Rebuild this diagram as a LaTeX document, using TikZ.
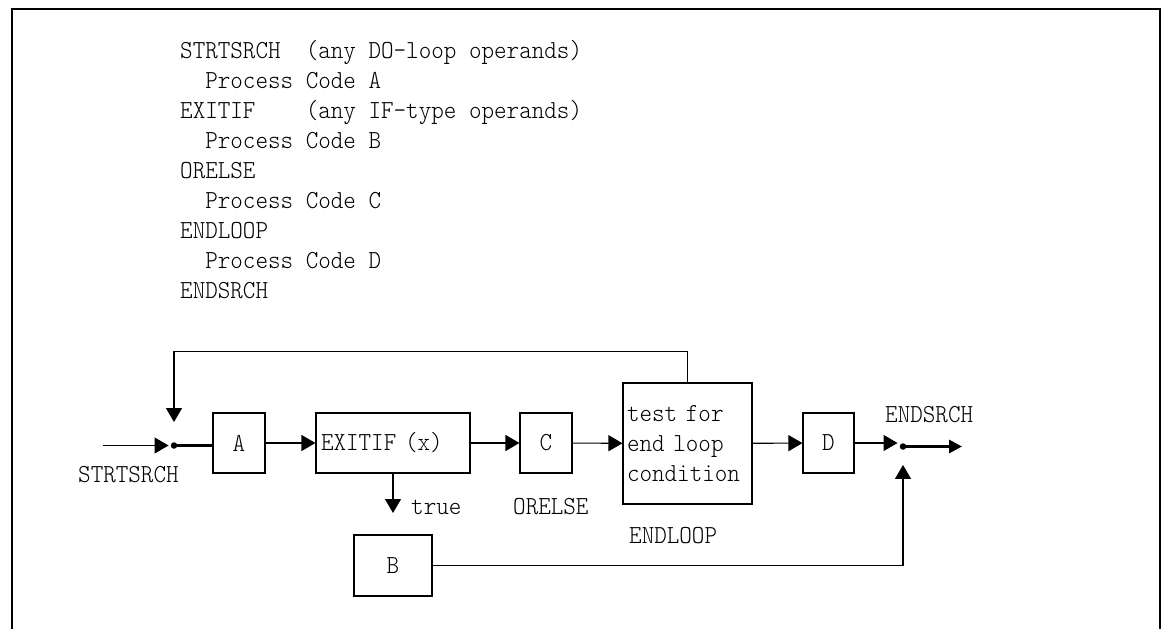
\documentclass[tikz,border=0pt]{standalone}
\usepackage{fontspec}
\newfontfamily\codefont{lmmonolt10-regular.otf}[FakeStretch=0.92]
\usetikzlibrary{arrows.meta}

\begin{document}
\begin{tikzpicture}[x=1pt,y=-1pt,
  every node/.style={font=\codefont\fontsize{26}{30}\selectfont, inner sep=0pt},
  box/.style={draw, line width=1.1pt},
  flow/.style={line width=1.1pt, -{Triangle[length=14pt,width=16pt]}},
  thickflow/.style={line width=3pt, -{Triangle[length=13pt,width=13pt]}},
  joint/.style={circle, fill, inner sep=0pt, minimum size=6.5pt},
  codeline/.style={anchor=base west},
  label/.style={anchor=base west}]

\useasboundingbox (0,0) rectangle (1162,629);

% page frame, open at the bottom
\draw[line width=2pt] (12,629) -- (12,9) -- (1160,9) -- (1160,629);

% source listing
\node[codeline] (l1) at (180, 58) {STRTSRCH\ \ (any DO-loop operands)};
\node[codeline] (l2) at (180, 88) {\ \ Process Code A};
\node[codeline] (l3) at (180,118) {EXITIF\ \ \ \ (any IF-type operands)};
\node[codeline] (l4) at (180,148) {\ \ Process Code B};
\node[codeline] (l5) at (180,178) {ORELSE};
\node[codeline] (l6) at (180,208) {\ \ Process Code C};
\node[codeline] (l7) at (180,238) {ENDLOOP};
\node[codeline] (l8) at (180,268) {\ \ Process Code D};
\node[codeline] (l9) at (180,298) {ENDSRCH};

% flow diagram blocks
\node[box, minimum width=52pt, minimum height=60pt] (A) at (239,443) {A};
\node[box, minimum width=154pt, minimum height=60pt, text width=144pt, align=left] (X) at (393,443) {EXITIF (x)};
\node[box, minimum width=52pt, minimum height=60pt] (C) at (546,443) {C};
\node[box, minimum width=129pt, minimum height=121pt, text width=121pt, align=left] (T) at (687.5,443.5) {test for\\end loop\\condition};
\node[box, minimum width=51pt, minimum height=60pt] (D) at (828.5,443) {D};
\node[box, minimum width=78pt, minimum height=61pt] (B) at (393,565.5) {B};

% junction points
\node[joint] (J1) at (174,445.5) {};
\node[joint] (J2) at (903,446.5) {};
\coordinate (in) at (103,445.5);
\coordinate (out) at (962,446.5);
\coordinate (trueend) at (393,513);

% labels
\node[label] (lstart) at (78,482) {STRTSRCH};
\node[label] (ltrue) at (411,514) {true};
\node[label] (lorelse) at (513,514) {ORELSE};
\node[label] (lendloop) at (629,543) {ENDLOOP};
\node[label] (lendsrch) at (885,422) {ENDSRCH};

% connectors
\draw[flow, shorten >=2pt] (in) -- (J1);
\draw[line width=3pt] (J1.east) -- (A.west |- J1);
\draw[flow] (A) -- (X);
\draw[flow] (X) -- (C);
\draw[flow] (C) -- (T);
\draw[flow] (T) -- (D);
\draw[flow, shorten >=2pt] (D.east) -- (D.east -| J2.west);
\draw[thickflow] (J2.east) -- (out);
\draw[flow] (X.south) -- (trueend);
\draw[flow, shorten >=15pt] (B.east) -| (J2);
\draw[flow, shorten >=20pt] (T.north) -- ++(0,-31) -| (J1);

\end{tikzpicture}
\end{document}
